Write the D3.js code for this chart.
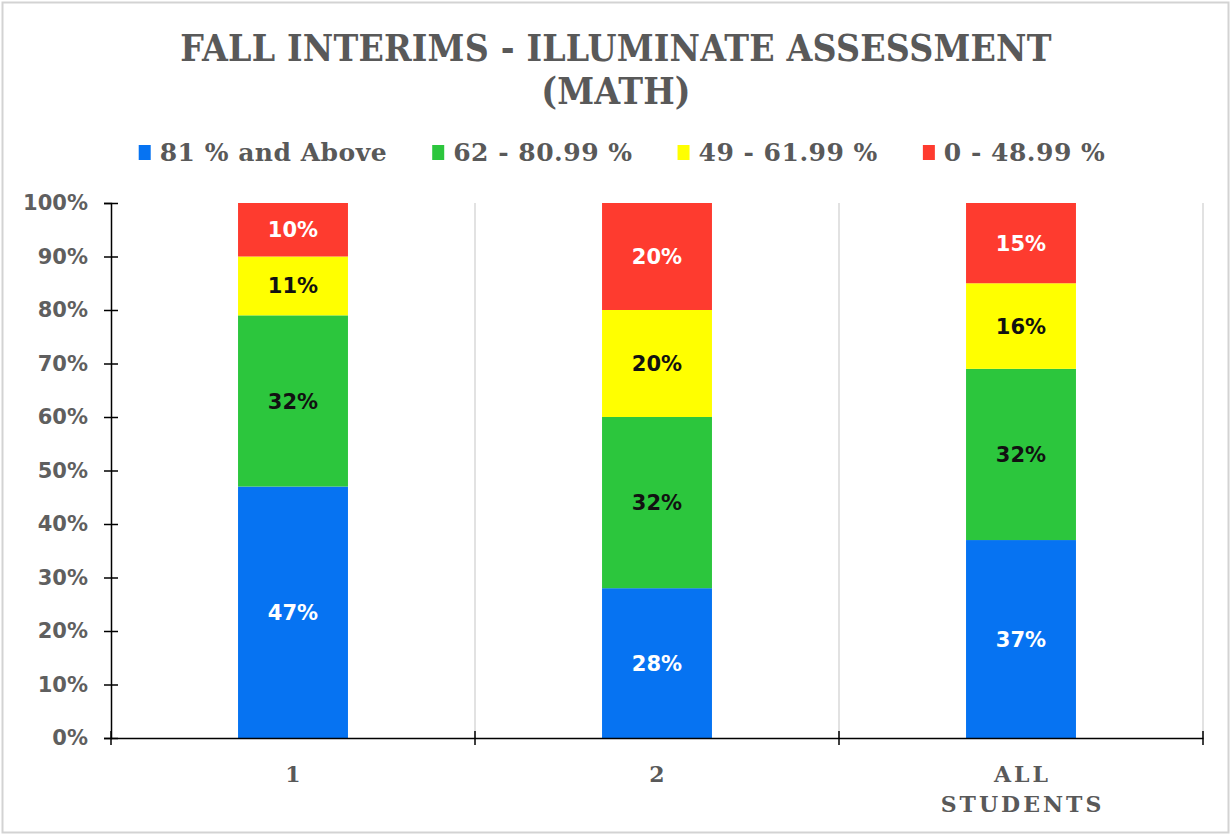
<!DOCTYPE html>
<html>
<head>
<meta charset="utf-8">
<script src="https://cdn.jsdelivr.net/npm/d3@7"></script>
<style>
  body { margin: 0; background: #fff; }
  .serif { font-family: "DejaVu Serif", serif; font-weight: bold; fill: #595959; }
  .title { font-family: "DejaVu Serif Condensed", "DejaVu Serif", serif; font-stretch: condensed; font-weight: bold; fill: #595959; }
  .sans { font-family: "DejaVu Sans", Verdana, sans-serif; font-weight: bold; }
</style>
</head>
<body>
<div id="chart"></div>
<script>
// data
const categories = ['1', '2', 'ALL STUDENTS']
const seriesNames = ['81 % and Above', '62 - 80.99 %', '49 - 61.99 %', '0 - 48.99 %']
const above81 = [47, 28, 37]
const from62 = [32, 32, 32]
const from49 = [11, 20, 16]
const below49 = [10, 20, 15]
const yTicks = [0, 10, 20, 30, 40, 50, 60, 70, 80, 90, 100]

const colors = ['#0673f2', '#2cc63d', '#ffff00', '#fe3b2f']
const labelColors = ['#ffffff', '#111111', '#111111', '#ffffff']

const W = 1232, H = 835
const margin = { top: 203, right: 29, bottom: 97, left: 111 }
const width = W - margin.left - margin.right
const height = H - margin.top - margin.bottom

// rows for d3.stack
const rows = categories.map((c, i) => ({
    cat: c,
    s0: above81[i], s1: from62[i], s2: from49[i], s3: below49[i]
}))
const keys = ['s0', 's1', 's2', 's3']
const stacked = d3.stack().keys(keys)(rows)

const x = d3.scaleBand()
    .domain(categories)
    .range([0, width])
    .padding(0)

const y = d3.scaleLinear()
    .domain([0, 100])
    .range([height, 0])

const barW = x.bandwidth() * 0.302

const root = d3.select('#chart')
    .append('svg')
    .attr('width', W)
    .attr('height', H)

// outer frame
root.append('rect')
    .attr('x', 2.5).attr('y', 2.5)
    .attr('width', W - 6).attr('height', H - 5)
    .attr('fill', '#fff')
    .attr('stroke', '#d3d3d3')
    .attr('stroke-width', 2)

// title (two lines)
const titleLines = ['FALL INTERIMS - ILLUMINATE ASSESSMENT', '(MATH)']
root.append('g')
    .selectAll('text')
    .data(titleLines)
    .enter()
    .append('text')
    .attr('class', 'title')
    .attr('x', 616)
    .attr('y', (d, i) => 61 + i * 43)
    .attr('text-anchor', 'middle')
    .style('font-size', '37px')
    .style('letter-spacing', '0.2px')
    .text(d => d)

// legend, laid out left to right then centered
const legend = root.append('g')
let lx = 0
seriesNames.forEach((name, i) => {
    const g = legend.append('g').attr('transform', `translate(${lx},0)`)
    g.append('rect')
        .attr('x', 0).attr('y', -16)
        .attr('width', 12).attr('height', 15)
        .attr('fill', colors[i])
    const t = g.append('text')
        .attr('class', 'serif')
        .attr('x', 21).attr('y', 0)
        .style('font-size', '25px')
        .style('letter-spacing', '0.5px')
        .text(name)
    lx += 21 + t.node().getComputedTextLength() + 45
})
const legW = lx - 45
legend.attr('transform', `translate(${622 - legW / 2},161)`)

const svg = root.append('g')
    .attr('transform', `translate(${margin.left},${margin.top})`)

// vertical gridlines at category edges
svg.selectAll('.grid')
    .data(categories)
    .enter()
    .append('line')
    .attr('x1', d => x(d) + x.bandwidth())
    .attr('x2', d => x(d) + x.bandwidth())
    .attr('y1', 0)
    .attr('y2', height)
    .attr('stroke', '#d9d9d9')
    .attr('stroke-width', 1.5)

// stacked bars
const layer = svg.selectAll('.layer')
    .data(stacked)
    .enter()
    .append('g')
    .attr('fill', (d, i) => colors[i])

layer.selectAll('rect')
    .data(d => d)
    .enter()
    .append('rect')
    .attr('x', d => x(d.data.cat) + (x.bandwidth() - barW) / 2)
    .attr('width', barW)
    .attr('y', d => y(d[1]))
    .attr('height', d => y(d[0]) - y(d[1]))

// value labels
stacked.forEach((s, i) => {
    svg.selectAll('.lbl' + i)
        .data(s)
        .enter()
        .append('text')
        .attr('class', 'sans')
        .attr('x', d => x(d.data.cat) + x.bandwidth() / 2)
        .attr('y', d => y((d[0] + d[1]) / 2))
        .attr('dy', '0.36em')
        .attr('text-anchor', 'middle')
        .style('font-size', '21px')
        .attr('fill', labelColors[i])
        .text(d => (d[1] - d[0]) + '%')
})

// y axis
const yAxis = svg.append('g')
    .call(d3.axisLeft(y).tickValues(yTicks).tickFormat(d => d + '%').tickSize(7).tickPadding(16))
yAxis.select('.domain').attr('stroke', '#000').attr('stroke-width', 1.5)
yAxis.selectAll('.tick line').attr('x1', 7).attr('stroke-width', 1.5)
yAxis.selectAll('text')
    .attr('class', 'sans')
    .style('font-size', '21px')
    .attr('fill', '#5f5f5f')

// x axis
const xAxis = svg.append('g')
    .attr('transform', `translate(0,${height})`)
    .call(d3.axisBottom(x).tickSize(0).tickPadding(0))
xAxis.select('.domain').attr('stroke', '#000').attr('stroke-width', 1.5)
xAxis.selectAll('.tick text').remove()

// edge ticks on x axis
const edges = [0].concat(categories.map(d => x(d) + x.bandwidth()))
xAxis.selectAll('.edge')
    .data(edges)
    .enter()
    .append('line')
    .attr('x1', d => d).attr('x2', d => d)
    .attr('y1', -7).attr('y2', 7)
    .attr('stroke', '#000')
    .attr('stroke-width', 1.5)

// category labels, split on spaces
xAxis.selectAll('.cat')
    .data(categories)
    .enter()
    .append('text')
    .attr('class', 'serif')
    .attr('x', d => x(d) + x.bandwidth() / 2)
    .attr('y', 44)
    .attr('text-anchor', 'middle')
    .style('font-size', '22px')
    .style('letter-spacing', '3px')
    .each(function (d) {
        const words = d.split(' ')
        words.forEach((w, j) => {
            d3.select(this).append('tspan')
                .attr('x', x(d) + x.bandwidth() / 2 + 1.5)
                .attr('dy', j === 0 ? 0 : 30)
                .text(w)
        })
    })
</script>
</body>
</html>
